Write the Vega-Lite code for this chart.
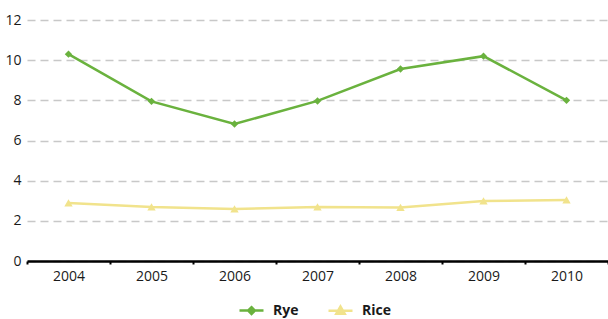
{
  "$schema": "https://vega.github.io/schema/vega-lite/v6.json",
  "width": 581,
  "height": 241,
  "autosize": "none",
  "padding": {"left": 27, "right": 0, "top": 20, "bottom": 58},
  "background": "white",
  "config": {
    "view": {"stroke": null},
    "font": "Open Sans",
    "axis": {"labelFont": "Open Sans", "labelFontSize": 14, "labelColor": "#1a1a1a"}
  },
  "data": {
    "values": [
      {"year": "2004", "crop": "Rye", "value": 10.3},
      {"year": "2005", "crop": "Rye", "value": 7.95},
      {"year": "2006", "crop": "Rye", "value": 6.82},
      {"year": "2007", "crop": "Rye", "value": 7.97},
      {"year": "2008", "crop": "Rye", "value": 9.56},
      {"year": "2009", "crop": "Rye", "value": 10.2},
      {"year": "2010", "crop": "Rye", "value": 8.0},
      {"year": "2004", "crop": "Rice", "value": 2.89},
      {"year": "2005", "crop": "Rice", "value": 2.69},
      {"year": "2006", "crop": "Rice", "value": 2.59},
      {"year": "2007", "crop": "Rice", "value": 2.69},
      {"year": "2008", "crop": "Rice", "value": 2.67},
      {"year": "2009", "crop": "Rice", "value": 2.99},
      {"year": "2010", "crop": "Rice", "value": 3.04}
    ]
  },
  "encoding": {
    "x": {
      "field": "year", "type": "ordinal", "title": null,
      "scale": {"paddingInner": 0, "paddingOuter": 0},
      "axis": {
        "labelAngle": 0, "domainColor": "#000", "domainWidth": 2.5,
        "tickColor": "#000", "tickSize": 3, "tickWidth": 2, "tickBand": "extent",
        "labelPadding": 5, "grid": false
      }
    },
    "y": {
      "field": "value", "type": "quantitative", "title": null,
      "scale": {"domain": [0, 12], "nice": false},
      "axis": {
        "values": [0, 2, 4, 6, 8, 10, 12], "domain": false, "ticks": false,
        "labelPadding": 6, "grid": true, "gridColor": "#c8c8c8", "gridDash": [8, 5], "gridWidth": 1.3
      }
    },
    "color": {
      "field": "crop", "type": "nominal", "sort": ["Rye", "Rice"],
      "scale": {"domain": ["Rye", "Rice"], "range": ["#6ab23e", "#f1e38c"]},
      "legend": {
        "title": null, "orient": "none", "legendX": 211, "legendY": 277, "direction": "horizontal",
        "labelFont": "Open Sans", "labelFontSize": 14, "labelFontWeight": "bold", "labelColor": "#1a1a1a",
        "symbolSize": 576, "symbolStrokeWidth": 2.5, "columnPadding": 24, "labelOffset": 8,
        "encode": {
          "symbols": {
            "update": {
              "shape": {"signal": "datum.value === 'Rye' ? 'M-1,0H1M0,-0.28L0.28,0L0,0.28L-0.28,0Z' : 'M-1,0H1M0,-0.35L0.35,0.25L-0.35,0.25Z'"},
              "fill": {"signal": "datum.value === 'Rye' ? '#6ab23e' : '#f1e38c'"},
              "fillOpacity": {"value": 1}
            }
          }
        }
      }
    }
  },
  "layer": [
    {"mark": {"type": "line", "strokeWidth": 2.5}},
    {
      "transform": [{"filter": "datum.crop === 'Rye'"}],
      "mark": {"type": "point", "shape": "diamond", "filled": true, "size": 55, "opacity": 1}
    },
    {
      "transform": [{"filter": "datum.crop === 'Rice'"}],
      "mark": {"type": "point", "shape": "triangle-up", "filled": true, "size": 70, "opacity": 1}
    }
  ]
}
